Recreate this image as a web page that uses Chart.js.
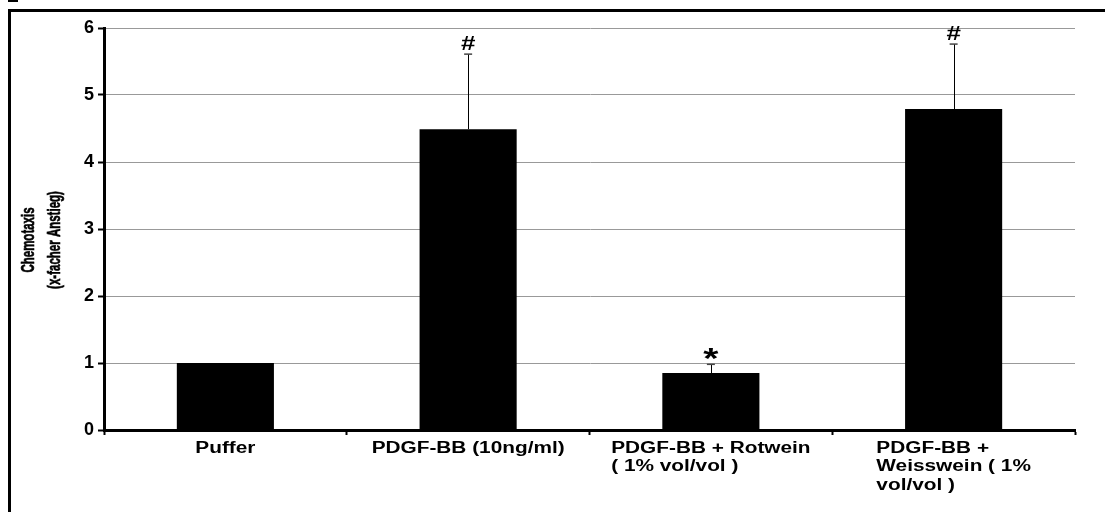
<!DOCTYPE html>
<html>
<head>
<meta charset="utf-8">
<script src="https://cdn.jsdelivr.net/npm/chart.js@4.4.1/dist/chart.umd.min.js"></script>
<style>
  body { margin: 0; background: #fff; }
  #wrap { position: relative; width: 1105px; height: 512px; overflow: hidden; }
  #frame { position: absolute; left: 8px; top: 9px; width: 1200px; height: 600px;
           border-left: 3px solid #000; border-top: 3px solid #000; }
  #nub { position: absolute; left: 8px; top: 0; width: 10px; height: 2px; background: #000; }
  canvas { position: absolute; left: 0; top: 0; }
</style>
</head>
<body>
<div id="wrap">
  <div id="frame"></div>
  <div id="nub"></div>
  <canvas id="chart" width="1105" height="512"></canvas>
</div>
<script>
// data
const categories = [
    ['Puffer'],
    ['PDGF-BB (10ng/ml)'],
    ['PDGF-BB + Rotwein', '( 1% vol/vol )'],
    ['PDGF-BB +', 'Weisswein ( 1%', 'vol/vol )']
];
const values = [1.0, 4.49, 0.85, 4.79];
const errors = [0, 1.12, 0.13, 0.97];
const marks = ['', '#', '*', '#'];
const yTitle = ['Chemotaxis', '(x-facher Anstieg)'];
const yMin = 0, yMax = 6, yStep = 1;

const FONT = "'Liberation Sans', Arial, sans-serif";
const STRETCH = 1.3; // the original picture is stretched sideways

// error bars, significance marks, category labels and axis title
const decor = {
    id: 'decor',
    afterDatasetsDraw(chart) {
        const ctx = chart.ctx;
        const y = chart.scales.y;
        const meta = chart.getDatasetMeta(0);
        meta.data.forEach(function(bar, i) {
            let topPx = y.getPixelForValue(values[i] + errors[i]);
            if (errors[i] > 0) {
                ctx.save();
                ctx.strokeStyle = '#000';
                ctx.lineWidth = 1;
                ctx.beginPath();
                ctx.moveTo(Math.round(bar.x) + 0.5, bar.y);
                ctx.lineTo(Math.round(bar.x) + 0.5, topPx);
                ctx.stroke();
                ctx.strokeStyle = '#444';
                ctx.lineWidth = 1.5;
                ctx.beginPath();
                ctx.moveTo(bar.x - 4, topPx);
                ctx.lineTo(bar.x + 4, topPx);
                ctx.stroke();
                ctx.restore();
            }
            if (marks[i]) {
                ctx.save();
                ctx.fillStyle = '#000';
                ctx.font = marks[i] == '*' ? 'bold 30px ' + FONT : 'bold 20px ' + FONT;
                ctx.textAlign = 'center';
                ctx.textBaseline = 'alphabetic';
                const m = ctx.measureText(marks[i]);
                const base = topPx - 4 - m.actualBoundingBoxDescent;
                ctx.translate(bar.x, base);
                ctx.scale(STRETCH, 1);
                ctx.fillText(marks[i], 0, 0);
                ctx.restore();
            }
        });
    },
    afterDraw(chart) {
        const ctx = chart.ctx;
        const x = chart.scales.x;

        // category labels: block centred, lines left aligned
        ctx.save();
        ctx.fillStyle = '#000';
        ctx.font = 'bold 16px ' + FONT;
        ctx.textBaseline = 'alphabetic';
        ctx.textAlign = 'left';
        categories.forEach(function(lines, i) {
            const cx = x.getPixelForValue(i);
            let w = 0;
            lines.forEach(function(l) { w = Math.max(w, ctx.measureText(l).width * STRETCH); });
            const left = cx - w / 2;
            lines.forEach(function(l, j) {
                ctx.save();
                ctx.translate(left, 453 + j * 18.3);
                ctx.scale(STRETCH, 1);
                ctx.fillText(l, 0, 0);
                ctx.restore();
            });
        });
        ctx.restore();

        // y axis title
        ctx.save();
        ctx.fillStyle = '#000';
        ctx.strokeStyle = '#000';
        ctx.lineWidth = 0.4;
        ctx.font = 'bold 11.5px ' + FONT;
        ctx.textAlign = 'center';
        ctx.textBaseline = 'alphabetic';
        const baselines = [34, 60];
        yTitle.forEach(function(t, j) {
            ctx.save();
            ctx.translate(baselines[j], 240);
            ctx.rotate(-Math.PI / 2);
            ctx.scale(1, 1.55);
            ctx.fillText(t, 0, 0);
            ctx.strokeText(t, 0, 0);
            ctx.restore();
        });
        ctx.restore();
    }
};

const data = {
    labels: categories,
    datasets: [{
        data: values,
        backgroundColor: '#000',
        borderWidth: 0,
        barPercentage: 0.4,
        categoryPercentage: 1.0
    }]
};

const config = {
    type: 'bar',
    data: data,
    options: {
        responsive: false,
        animation: false,
        devicePixelRatio: 1,
        layout: { padding: { left: 0, right: 30, top: 28, bottom: 0 } },
        plugins: {
            legend: { display: false },
            tooltip: { enabled: false }
        },
        scales: {
            x: {
                afterFit: function(s) { s.height = 82; },
                grid: {
                    offset: true,
                    drawOnChartArea: false,
                    drawTicks: true,
                    tickLength: 5,
                    tickColor: '#000',
                    tickWidth: 2
                },
                border: { display: true, color: '#000', width: 3 },
                ticks: { display: false }
            },
            y: {
                min: yMin,
                max: yMax,
                afterFit: function(s) { s.width = 104; },
                grid: {
                    color: '#999',
                    lineWidth: 1,
                    tickColor: '#000',
                    tickLength: 6,
                    tickWidth: 2
                },
                border: { display: true, color: '#000', width: 3 },
                ticks: {
                    stepSize: yStep,
                    padding: 4,
                    color: '#000',
                    font: { family: FONT, size: 18, weight: 'bold' }
                }
            }
        }
    },
    plugins: [decor]
};

const chart = new Chart(document.getElementById('chart'), config);
</script>
</body>
</html>
